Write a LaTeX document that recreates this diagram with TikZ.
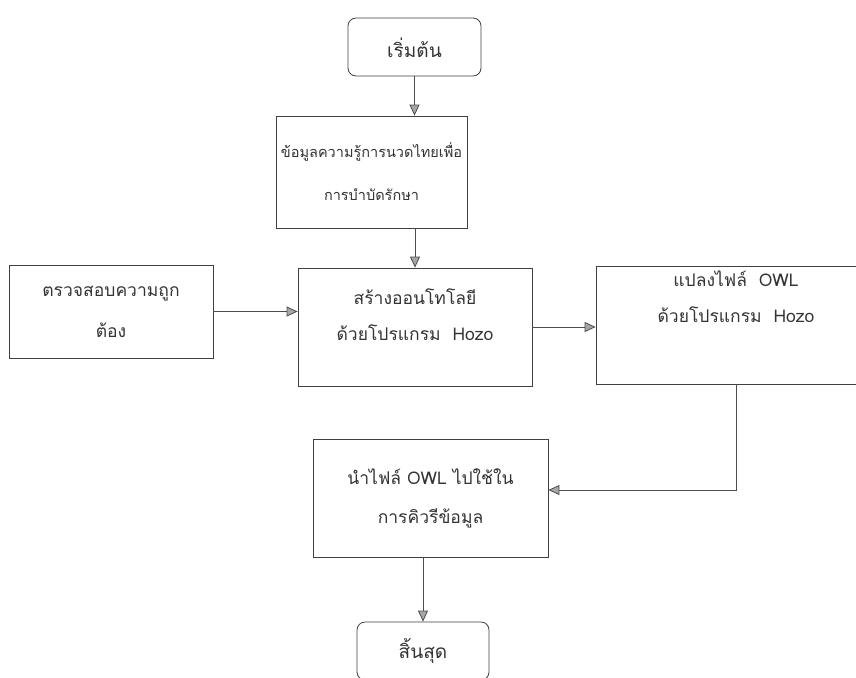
\documentclass[tikz,border=0pt]{standalone}
\usepackage{fontspec}
\setmainfont[Script=Thai]{Loma}
\usetikzlibrary{arrows.meta, calc}

\begin{document}
\begin{tikzpicture}[x=1pt, y=-1pt,
        box/.style={draw=black!75, line width=0.8pt, align=center, inner sep=0pt,
            font=\fontsize{17.5}{36}\selectfont, text=black!80},
        term/.style={box, rounded corners=8pt, font=\fontsize{19}{36}\selectfont},
        arr/.style={draw=black!70, line width=0.8pt, -{Triangle[width=10pt, length=11pt, fill=black!35]}}]
        \useasboundingbox (0,0) rectangle (856,677);
        \clip (0,0) rectangle (856,677);

        \node[term, minimum width=133pt, minimum height=58pt, text height=22pt, text depth=0pt] at (414.5,47) (start) {เริ่มต้น};
        \node[box, minimum width=191pt, minimum height=112pt, font=\fontsize{14.5}{38}\selectfont] at (371.5,172) (know) {ข้อมูลความรู้การนวดไทยเพื่อ\\[5pt]การบำบัดรักษา};
        \node[box, minimum width=204pt, minimum height=93pt] at (111,311.5) (check) {ตรวจสอบความถูก\\[5pt]ต้อง};
        \node[box, minimum width=234pt, minimum height=118pt] at (415,327) (create) {สร้างออนโทโลยี\\ด้วยโปรแกรม~~Hozo\\[-12pt]\mbox{}};
        \node[box, minimum width=280pt, minimum height=118pt] at (736,325) (convert) {แปลงไฟล์~~OWL\\ด้วยโปรแกรม~~Hozo\\[20pt]\mbox{}};
        \node[box, minimum width=235pt, minimum height=118pt] at (430.5,498) (use) {นำไฟล์ OWL ไปใช้ใน\\[3pt]การคิวรีข้อมูล};
        \node[term, minimum width=132pt, minimum height=58pt] at (423,651) (finish) {สิ้นสุด};

        \draw[arr] (start.south) -- (start.south |- know.north);
        \draw[arr] (know.south -| create.north) -- (create.north);
        \draw[arr] (check.east) -- (check.east -| create.west);
        \draw[arr] (create.east) -- (create.east -| convert.west);
        \draw[arr] (convert.south) |- ([yshift=8pt]use.east);
        \draw[arr] (use.south -| finish.north) -- (finish.north);
    \end{tikzpicture}
\end{document}
